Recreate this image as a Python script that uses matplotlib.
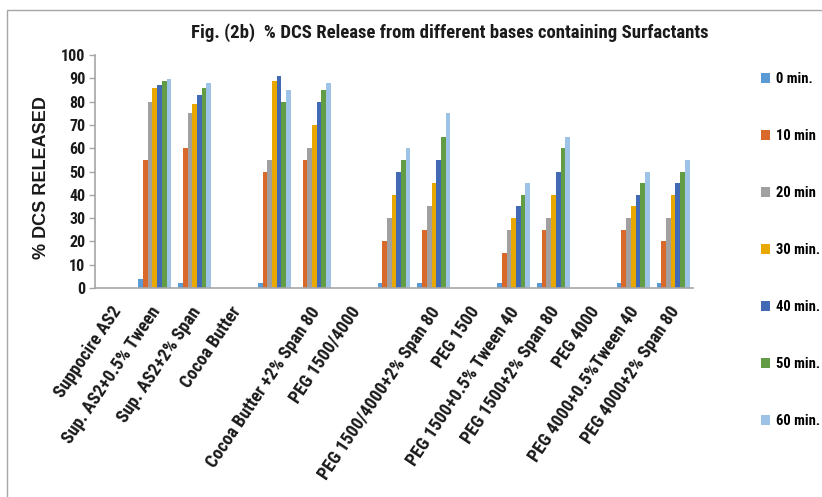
import numpy as np
import matplotlib
matplotlib.use("Agg")
import matplotlib.pyplot as plt
import matplotlib.font_manager as fm
import matplotlib.transforms as mtransforms
from matplotlib.patches import Rectangle

categories = ["Suppocire AS2", "Sup. AS2+0.5% Tween", "Sup. AS2+2% Span", "Cocoa Butter", "",
              "Cocoa Butter +2% Span 80", "PEG 1500/4000", "", "PEG 1500/4000+2% Span 80",
              "PEG 1500", "PEG 1500+0.5% Tween 40", "PEG 1500+2% Span 80", "PEG 4000",
              "PEG 4000+0.5%Tween 40", "PEG 4000+2% Span 80"]

series_names = ["0 min.", "10 min", "20 min", "30 min.", "40 min.", "50 min.", "60 min."]
nan = np.nan
min0  = [nan, 4, 2, nan, 2, 0, nan, 2, 2, nan, 2, 2, nan, 2, 2]
min10 = [nan, 55, 60, nan, 50, 55, nan, 20, 25, nan, 15, 25, nan, 25, 20]
min20 = [nan, 80, 75, nan, 55, 60, nan, 30, 35, nan, 25, 30, nan, 30, 30]
min30 = [nan, 86, 79, nan, 89, 70, nan, 40, 45, nan, 30, 40, nan, 35, 40]
min40 = [nan, 87, 83, nan, 91, 80, nan, 50, 55, nan, 35, 50, nan, 40, 45]
min50 = [nan, 89, 86, nan, 80, 85, nan, 55, 65, nan, 40, 60, nan, 45, 50]
min60 = [nan, 89.5, 88, nan, 85, 88, nan, 60, 75, nan, 45, 65, nan, 50, 55]
series = [min0, min10, min20, min30, min40, min50, min60]
colors = ["#5B9BD5", "#D9692A", "#A0A0A0", "#E8A800", "#4169B4", "#629C44", "#9DC3E6"]

title = "Fig. (2b)  % DCS Release from different bases containing Surfactants"
ylabel = "% DCS RELEASED"


def find_narrow_bold():
    condensed = {"condensed", "semi-condensed", "extra-condensed", "ultra-condensed"}
    prefs = ["Liberation Sans Narrow", "Roboto Condensed", "Open Sans Condensed",
             "Noto Sans", "Open Sans", "Roboto", "DejaVu Sans", "Lato", "Inter"]
    ents = fm.fontManager.ttflist
    def is_bold(f):
        w = f.weight
        if isinstance(w, str):
            return "bold" in w.lower() and "semi" not in w.lower() and "extra" not in w.lower()
        return 650 <= w <= 750
    def is_cond(f):
        s = f.stretch
        return (isinstance(s, str) and s in condensed) or \
               (not isinstance(s, str) and s < 500) or \
               "narrow" in f.name.lower() or "condensed" in f.name.lower() or \
               "condensed" in f.fname.lower() or "narrow" in f.fname.lower()
    for p in prefs:
        for f in ents:
            if f.name == p and is_bold(f) and is_cond(f) and f.style == "normal":
                return fm.FontProperties(fname=f.fname)
    for f in ents:
        if is_bold(f) and is_cond(f) and f.style == "normal":
            return fm.FontProperties(fname=f.fname)
    return None

nb = find_narrow_bold()
if nb is not None:
    nfile = nb.get_file()
    def NP(size):
        return fm.FontProperties(fname=nfile, size=size)
    scale = 1.0
else:
    def NP(size):
        return fm.FontProperties(family=["Liberation Sans", "DejaVu Sans"], weight="bold", size=size * 0.8)
    scale = 0.8

fig = plt.figure(figsize=(8.22, 4.97), dpi=100)
fig.patches.append(Rectangle((7/822, -0.1), 1.2, 1 - 10/497 + 0.1, transform=fig.transFigure,
                             fill=False, edgecolor="#A6A6A6", linewidth=1.0))
ax = fig.add_axes([95/822, 1 - 288/497, (693 - 95)/822, (288 - 55)/497])

x = np.arange(len(categories))
bw = 0.118
for i, (vals, c, name) in enumerate(zip(series, colors, series_names)):
    ax.bar(x + (i - 3) * bw, vals, width=bw, color=c, label=name, linewidth=0)

ax.set_xlim(-0.5, len(categories) - 0.5)
ax.set_ylim(0, 100)
ax.set_yticks(range(0, 101, 10))
ax.set_yticklabels([str(v) for v in range(0, 101, 10)], fontproperties=NP(11.5), color="#1a1a1a")
ax.set_xticks(x)
ax.set_xticklabels(categories, rotation=56, ha="right", rotation_mode="anchor",
                   fontproperties=NP(13), color="#1a1a1a")
ax.tick_params(axis="x", length=0, pad=11)
ax.tick_params(axis="y", length=4, color="#A6A6A6", width=1, pad=3)
shift = mtransforms.ScaledTranslation(-5/100, 0, fig.dpi_scale_trans)
for lab in ax.get_xticklabels():
    lab.set_transform(lab.get_transform() + shift)
for s in ["top", "right"]:
    ax.spines[s].set_visible(False)
for s in ["left", "bottom"]:
    ax.spines[s].set_color("#A6A6A6")
    ax.spines[s].set_linewidth(1.2)

fig.text(450/822, 1 - 33/497, title, ha="center", va="center",
         fontproperties=NP(13.5), color="#1a1a1a")
fig.text(41/822, 1 - 178/497, ylabel, rotation=90, ha="center", va="center",
         family=["Liberation Sans", "DejaVu Sans"], fontweight="bold", fontsize=13, color="#1a1a1a")

handles, labels = ax.get_legend_handles_labels()
leg = fig.legend(handles, labels, loc="upper left", bbox_to_anchor=(748/822, 1 - 59/497),
                 frameon=False, handlelength=0.6, handleheight=0.6, handletextpad=0.4,
                 labelspacing=2.95 / scale, prop=NP(10.5))

fig.savefig("out.png", dpi=100)
